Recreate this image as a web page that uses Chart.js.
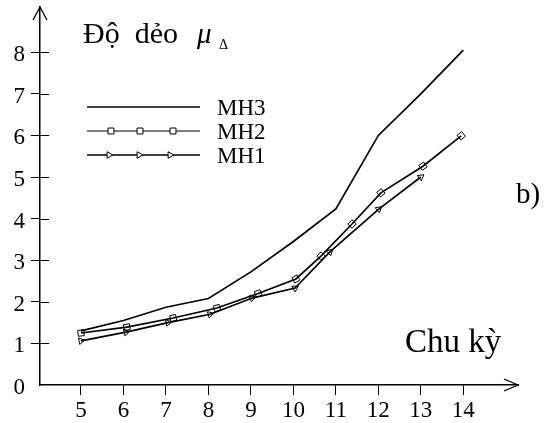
<!DOCTYPE html>
<html><head><meta charset="utf-8">
<script src="https://cdn.jsdelivr.net/npm/chart.js@4/dist/chart.umd.min.js"></script>
<style>html,body{margin:0;padding:0;background:#fff;}#wrap{width:548px;height:423px;}</style>
</head><body><div id="wrap"><canvas id="c" width="548" height="423"></canvas></div>
<script>
const xTicks = [5,6,7,8,9,10,11,12,13,14];
const yTicks = [0,1,2,3,4,5,6,7,8];
const mh3X = [5,6,7,8,9,10,11,12,13,14];
const mh3Y = [1.3,1.55,1.87,2.08,2.72,3.45,4.23,6.0,7.0,8.05];
const mh2X = [5.0,6.08,7.17,8.2,9.17,10.06,10.65,11.38,12.06,13.05,13.95];
const mh2Y = [1.25,1.39,1.61,1.85,2.2,2.55,3.1,3.87,4.62,5.26,5.99];
const mh1X = [5.0,6.06,7.05,8.04,9.03,10.04,10.86,12.01,13.0];
const mh1Y = [1.06,1.27,1.5,1.7,2.09,2.33,3.2,4.23,5.0];
const seriesNames = ['MH3','MH2','MH1'];
const yTitleText = 'Độ  dẻo';
const yTitleSym = 'μ';
const yTitleSub = 'Δ';
const xTitleText = 'Chu kỳ';
const panelLabel = 'b)';

const FONT = '"Liberation Serif", "Times New Roman", serif';
const toPts = (xs, ys) => xs.map((x, i) => ({x: x, y: ys[i]}));

function segAngle(ctx) {
  const ds = ctx.chart.data.datasets[ctx.datasetIndex].data;
  const i = ctx.dataIndex;
  const sx = ctx.chart.scales.x, sy = ctx.chart.scales.y;
  if (!sx || !sy || !ds[i]) return 0;
  const a = ds[Math.max(0, i - 1)], b = ds[Math.min(ds.length - 1, i + 1)];
  const dx = sx.getPixelForValue(b.x) - sx.getPixelForValue(a.x);
  const dy = sy.getPixelForValue(b.y) - sy.getPixelForValue(a.y);
  if (!isFinite(dx) || !isFinite(dy)) return 0;
  return Math.atan2(dy, dx) * 180 / Math.PI;
}

const decor = {
  id: 'decor',
  afterDraw(chart) {
    const c = chart.ctx, ca = chart.chartArea;
    const sy = chart.scales.y;
    c.save();
    c.strokeStyle = '#000'; c.lineWidth = 1.3;
    c.beginPath();
    c.moveTo(ca.left - 7, ca.top + 13); c.lineTo(ca.left, ca.top); c.lineTo(ca.left + 7, ca.top + 13);
    c.moveTo(ca.right - 14, ca.bottom - 6); c.lineTo(ca.right, ca.bottom); c.lineTo(ca.right - 14, ca.bottom + 6);
    c.stroke();
    c.beginPath();
    yTicks.forEach(v => { if (v === 0) return; const y = Math.round(sy.getPixelForValue(v)) + 0.5; c.moveTo(ca.left, y); c.lineTo(ca.left + 9, y); });
    c.lineWidth = 1; c.stroke();
    const lx0 = 87, lx1 = 200, rows = [107, 131, 155];
    rows.forEach((y, k) => {
      c.beginPath(); c.strokeStyle = k === 1 ? '#555' : '#000'; c.lineWidth = 1.5;
      c.moveTo(lx0, y); c.lineTo(lx1, y); c.stroke();
      c.fillStyle = '#000'; c.font = '23px ' + FONT; c.textBaseline = 'alphabetic'; c.textAlign = 'left';
      c.fillText(seriesNames[k], 217, y + 8);
    });
    c.strokeStyle = '#000'; c.fillStyle = '#fff'; c.lineWidth = 1;
    [111, 140, 173].forEach(x => Chart.helpers.drawPoint(c, {pointStyle: 'rect', radius: 4.2, rotation: 0, borderWidth: 1}, x, rows[1]));
    [109, 139, 170].forEach(x => Chart.helpers.drawPoint(c, {pointStyle: 'triangle', radius: 3.8, rotation: 90, borderWidth: 1}, x, rows[2]));
    c.fillStyle = '#000'; c.textAlign = 'left'; c.textBaseline = 'alphabetic';
    c.font = '30px ' + FONT; c.fillText(yTitleText, 83, 43);
    c.font = 'italic 29px ' + FONT; c.fillText(yTitleSym, 197, 43);
    c.font = '14px ' + FONT; c.fillText(yTitleSub, 219, 49);
    c.font = '33px ' + FONT; c.fillText(xTitleText, 405, 352);
    c.font = '29px ' + FONT; c.fillText(panelLabel, 516, 203);
    c.restore();
  }
};

const tickFont = {family: FONT, size: 23};
function build() {
new Chart(document.getElementById('c'), {
  type: 'line',
  data: {
    datasets: [
      {label: seriesNames[0], data: toPts(mh3X, mh3Y), borderColor: '#000', borderWidth: 1.7, pointRadius: 0, tension: 0},
      {label: seriesNames[1], data: toPts(mh2X, mh2Y), borderColor: '#000', borderWidth: 1.7, tension: 0,
       pointStyle: 'rect', pointRadius: 4.2, pointBorderWidth: 1, pointBackgroundColor: 'rgba(255,255,255,0)', pointBorderColor: '#000', pointRotation: segAngle},
      {label: seriesNames[2], data: toPts(mh1X, mh1Y), borderColor: '#000', borderWidth: 1.7, tension: 0,
       pointStyle: 'triangle', pointRadius: 3.8, pointBorderWidth: 1, pointBackgroundColor: 'rgba(255,255,255,0)', pointBorderColor: '#000', pointRotation: ctx => segAngle(ctx) + 90}
    ]
  },
  options: {
    responsive: false, animation: false, devicePixelRatio: 1,
    layout: {padding: {top: 7, right: 30, left: 0, bottom: 0}},
    plugins: {legend: {display: false}, tooltip: {enabled: false}},
    scales: {
      x: {
        type: 'linear', min: 4.035, max: 15.288,
        afterBuildTicks: s => { s.ticks = xTicks.map(v => ({value: v})); },
        afterFit: s => { s.height = 38; s.paddingLeft = 0; s.paddingRight = 0; },
        grid: {drawOnChartArea: false, drawTicks: true, tickLength: 10, color: '#000', lineWidth: 1},
        border: {display: true, color: '#000', width: 1.5},
        ticks: {font: tickFont, color: '#000', padding: 2, maxRotation: 0, autoSkip: false, callback: v => String(v)}
      },
      y: {
        type: 'linear', min: 0, max: 9.087,
        afterBuildTicks: s => { s.ticks = yTicks.map(v => ({value: v})); },
        afterFit: s => { s.width = 40; s.paddingTop = 0; s.paddingBottom = 0; },
        grid: {drawOnChartArea: false, drawTicks: true, tickLength: 9, color: c => (c.tick && c.tick.value === 0) ? 'rgba(0,0,0,0)' : '#000', lineWidth: 1},
        border: {display: true, color: '#000', width: 1.5},
        ticks: {font: tickFont, color: '#000', padding: 6, labelOffset: 3, autoSkip: false, callback: v => String(v)}
      }
    }
  },
  plugins: [decor]
});
}
Promise.all([
  document.fonts.load('23px "Liberation Serif"', 'Độ dẻo 0123456789'),
  document.fonts.load('italic 28px "Liberation Serif"', 'μ')
]).then(build, build);
</script></body></html>
